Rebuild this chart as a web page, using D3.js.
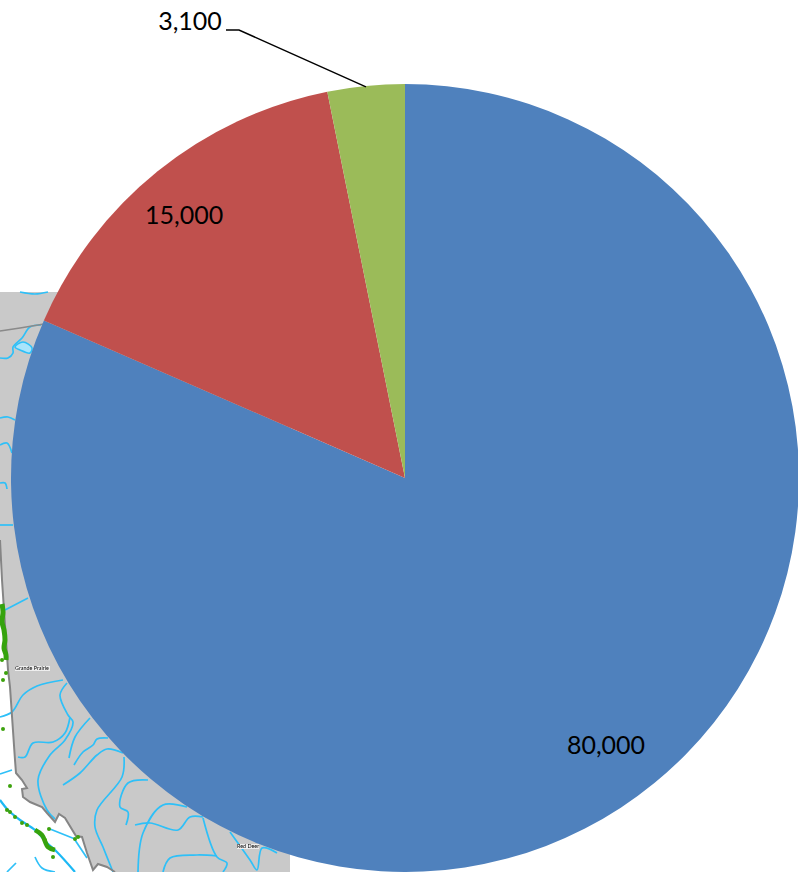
<!DOCTYPE html>
<html><head><meta charset="utf-8">
<script src="https://cdn.jsdelivr.net/npm/d3@7/dist/d3.min.js"></script>
<style>html,body{margin:0;padding:0;background:#fff}svg{display:block}text{font-family:Lato,"Open Sans",sans-serif;font-size:25px;fill:#000}</style>
</head><body><svg id="c" width="798" height="872"></svg>
<script>
const categories = ["A","B","C"];
const values = [80000,15000,3100];
const labels = ["80,000","15,000","3,100"];
const colors = ["#4F81BD","#C0504D","#9BBB59"];

// backdrop map traces (reference pixels)
const mapBorder = [[0,540],[2,580],[6,640],[8,670],[10,687],[15,760],[16,773],[22,780],[27,788],[22,789],[23,797],[30,802],[42,807],[47,813],[55,822],[59,814],[65,818],[76,836],[82,837],[87,853],[93,870],[98,864],[107,867],[115,872]];
const rivers = [
 [[20,292],[35,294],[48,292]],
 [[41,325],[30,327],[22,338],[13,347],[13,353],[8,358],[0,358]],
 [[0,418],[8,417],[15,420]],
 [[0,445],[7,443],[12,453]],
 [[0,483],[5,483],[7,489]],
 [[0,525],[13,525]],
 [[5,610],[28,598]],
 [[0,717],[12,712],[23,695],[37,686],[63,680]],
 [[67,683],[60,695],[68,715],[73,722],[65,740],[50,755],[38,780],[47,810],[55,819]],
 [[18,757],[25,757],[33,743],[53,742],[65,733],[70,717]],
 [[69,758],[75,737],[90,718]],
 [[74,765],[83,752],[93,745],[97,739],[108,738]],
 [[63,785],[80,773],[97,755],[107,749],[123,753]],
 [[124,757],[122,777],[97,810],[95,827],[103,847],[113,872]],
 [[148,780],[128,783],[120,807],[128,812],[126,825]],
 [[135,825],[150,823],[178,830],[190,817],[203,817]],
 [[138,872],[143,833],[163,805],[187,807]],
 [[203,818],[217,857],[227,863],[223,872]],
 [[163,872],[170,858],[197,855],[217,856]],
 [[230,832],[250,860],[257,870],[262,848],[277,853]],
 [[0,774],[12,770]],
 [[50,829],[75,839]],
 [[75,840],[87,858]],
 [[35,857],[42,868],[55,872]],
 [[7,872],[16,863]]
];
const mainRiver = [[0,800],[8,810],[20,820],[35,830],[47,843],[57,852],[75,872]];
const lake = [[15,347],[23,342],[32,348],[30,353],[20,350]];
const vegColumn = [[2,604],[3,612],[2,622],[4,630],[5,640],[4,648],[6,655],[6,660]];
const vegCoast = [[35,830],[42,835],[48,847],[55,850]];
const vegDots = [[2,660],[6,673],[10,786],[7,810],[10,812],[15,817],[22,823],[27,825],[45,840],[49,829],[53,857],[75,839],[78,837],[3,680],[3,729]];
const mapText = [["Grande Prairie",15,670,35],["Red Deer",237,848,22]];

const W=798,H=872,cx=405,cy=478,R=394;
const svg=d3.select("#c");
const blur=svg.append("defs").append("filter").attr("id","soft").attr("x",-0.05).attr("y",-0.05).attr("width",1.1).attr("height",1.1);
blur.append("feGaussianBlur").attr("stdDeviation",0.55);
const map=svg.append("g").attr("filter","url(#soft)");
map.append("rect").attr("x",0).attr("y",292).attr("width",290).attr("height",580).attr("fill","#C9C9C9");
map.append("path").attr("d",d3.line()([...mapBorder,[0,872]])).attr("fill","#fff");
const riverLine=d3.line().curve(d3.curveCatmullRom);
map.append("g").selectAll("path").data(rivers).join("path").attr("d",d=>riverLine(d)).attr("fill","none").attr("stroke","#2EC0F8").attr("stroke-width",1.7);
map.append("path").attr("d",riverLine(mainRiver)).attr("fill","none").attr("stroke","#1DB9F5").attr("stroke-width",2.2);
map.append("path").attr("d",d3.line().curve(d3.curveCatmullRomClosed)(lake)).attr("fill","#A9E4FB").attr("stroke","#2EC0F8").attr("stroke-width",1.6);
map.append("path").attr("d",d3.line()(mapBorder)).attr("fill","none").attr("stroke","#858585").attr("stroke-width",2);
map.append("path").attr("d",d3.line()([[0,331],[20,328],[44,324]])).attr("fill","none").attr("stroke","#8a8a8a").attr("stroke-width",1.6);
map.append("path").attr("d",riverLine(vegColumn)).attr("fill","none").attr("stroke","#35A30C").attr("stroke-width",5);
map.append("path").attr("d",riverLine(vegCoast)).attr("fill","none").attr("stroke","#35A30C").attr("stroke-width",4.5);
map.append("g").selectAll("circle").data(vegDots).join("circle").attr("cx",d=>d[0]).attr("cy",d=>d[1]).attr("r",2).attr("fill","#3DA20E");
mapText.forEach(([t,x,y,w])=>{
 map.append("rect").attr("x",x).attr("y",y-4).attr("width",w).attr("height",5).attr("fill","#eee");
 map.append("text").attr("x",x).attr("y",y).style("font-size","5.4px").text(t);
});

const pie=d3.pie().sort(null).value(d=>d)(values);
const arc=d3.arc().innerRadius(0).outerRadius(R);
const g=svg.append("g").attr("transform",`translate(${cx},${cy})`);
g.selectAll("path").data(pie).join("path").attr("d",arc).attr("fill",(d,i)=>colors[i]);

const rad=d3.scaleLinear().domain([0,1]).range([0,R]);
const polar=(a,r)=>[Math.sin(a)*rad(r),-Math.cos(a)*rad(r)];
const labelAt=[[2.496,0.848],[5.585,0.872]];
[0,1].forEach(i=>{
 const [x,y]=polar(labelAt[i][0],labelAt[i][1]);
 g.append("text").attr("x",x).attr("y",y).attr("text-anchor","middle").attr("dy","0.35em").text(labels[i]);
});
const gm=(pie[2].startAngle+pie[2].endAngle)/2;
const p0=polar(gm,1);
svg.append("text").attr("x",190).attr("y",21).attr("text-anchor","middle").attr("dy","0.35em").text(labels[2]);
svg.append("path").attr("d",d3.line()([[226,30],[239,30],[cx+p0[0],cy+p0[1]+1]])).attr("fill","none").attr("stroke","#000").attr("stroke-width",1.5);
</script></body></html>
